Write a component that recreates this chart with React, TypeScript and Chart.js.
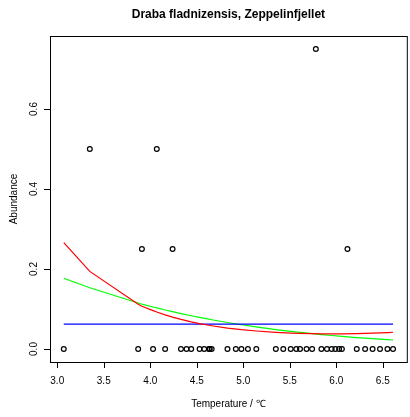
import React, { useEffect, useRef } from "react";
import { Chart, registerables } from "chart.js";

Chart.register(...registerables);

const chartTitle = "Draba fladnizensis, Zeppelinfjellet";
const xTitle = "Temperature / \u2103";
const yTitle = "Abundance";

const temperature = [
  3.07, 3.35, 3.87, 3.91, 4.03, 4.07, 4.16, 4.24, 4.33, 4.39, 4.44, 4.53, 4.58, 4.63,
  4.64, 4.66, 4.83, 4.92, 4.98, 5.05, 5.14, 5.35, 5.43, 5.51, 5.57, 5.61, 5.68, 5.74,
  5.78, 5.84, 5.9, 5.95, 5.99, 6.03, 6.06, 6.12, 6.22, 6.31, 6.39, 6.47, 6.55, 6.61,
];
const abundance = [
  0, 0.5, 0, 0.25, 0, 0.5, 0, 0.25, 0, 0, 0, 0, 0, 0,
  0, 0, 0, 0, 0, 0, 0, 0, 0, 0, 0, 0, 0, 0,
  0.75, 0, 0, 0, 0, 0, 0, 0.25, 0, 0, 0, 0, 0, 0,
];

const fitTemperature = [
  3.07, 3.35, 3.87, 3.91, 4.03, 4.07, 4.16, 4.24, 4.33, 4.44, 4.53, 4.63, 4.66, 4.83,
  4.98, 5.14, 5.35, 5.51, 5.61, 5.74, 5.84, 5.95, 6.06, 6.22, 6.39, 6.55, 6.61,
];
const redFit = [
  0.266, 0.194, 0.112, 0.107, 0.096, 0.0925, 0.0853, 0.0797, 0.074, 0.068, 0.0636, 0.0593,
  0.0582, 0.0524, 0.0484, 0.045, 0.0416, 0.0398, 0.039, 0.0383, 0.0379, 0.0378, 0.0378,
  0.0383, 0.0395, 0.0411, 0.0419,
];
const greenFit = [
  0.177, 0.153, 0.115, 0.112, 0.105, 0.103, 0.0976, 0.0933, 0.0886, 0.0832, 0.0789, 0.0745,
  0.0732, 0.0662, 0.0606, 0.0551, 0.0486, 0.0441, 0.0415, 0.0384, 0.0361, 0.0338, 0.0316,
  0.0286, 0.0258, 0.0234, 0.0225,
];
const meanTemperature = [3.07, 6.61];
const meanAbundance = [0.062, 0.062];

const xTicks = [3.0, 3.5, 4.0, 4.5, 5.0, 5.5, 6.0, 6.5];
const xTickLabels = ["3.0", "3.5", "4.0", "4.5", "5.0", "5.5", "6.0", "6.5"];
const yTicks = [0, 0.2, 0.4, 0.6];
const yTickLabels = ["0.0", "0.2", "0.4", "0.6"];

const FONT = '"Liberation Sans", Arial, Helvetica, sans-serif';

export default function App() {
  const ref = useRef<HTMLCanvasElement>(null);

  useEffect(() => {
    const canvas = ref.current;
    if (!canvas) return;

    const framePlugin = {
      id: "rframe",
      afterDraw(chart: any) {
        const { ctx, chartArea: a, scales } = chart;
        const xs = scales.x;
        const ys = scales.y;
        ctx.save();
        ctx.strokeStyle = "#000";
        ctx.lineWidth = 1;
        ctx.strokeRect(a.left + 0.5, a.top + 0.5, a.right - a.left, a.bottom - a.top);
        ctx.beginPath();
        for (const t of xTicks) {
          const px = Math.round(xs.getPixelForValue(t)) + 0.5;
          ctx.moveTo(px, a.bottom);
          ctx.lineTo(px, a.bottom + 6);
        }
        for (const t of yTicks) {
          const py = Math.round(ys.getPixelForValue(t)) + 0.5;
          ctx.moveTo(a.left, py);
          ctx.lineTo(a.left - 6, py);
        }
        ctx.stroke();

        ctx.fillStyle = "#000";
        ctx.font = `10px ${FONT}`;
        ctx.textAlign = "center";
        ctx.textBaseline = "middle";
        xTicks.forEach((t, i) => {
          ctx.fillText(xTickLabels[i], xs.getPixelForValue(t), a.bottom + 19);
        });
        ctx.fillText(xTitle, (a.left + a.right) / 2, a.bottom + 42);

        yTicks.forEach((t, i) => {
          ctx.save();
          ctx.translate(a.left - 16, ys.getPixelForValue(t));
          ctx.rotate(-Math.PI / 2);
          ctx.fillText(yTickLabels[i], 0, 0);
          ctx.restore();
        });
        ctx.save();
        ctx.translate(14, (a.top + a.bottom) / 2);
        ctx.rotate(-Math.PI / 2);
        ctx.fillText(yTitle, 0, 0);
        ctx.restore();

        ctx.font = `bold 12px ${FONT}`;
        ctx.fillText(chartTitle, (a.left + a.right) / 2, 15);
        ctx.restore();
      },
    };

    const toPoints = (xs: number[], ys: number[]) => xs.map((x, i) => ({ x, y: ys[i] }));

    const chart = new Chart(canvas, {
      type: "scatter",
      data: {
        datasets: [
          {
            type: "scatter",
            data: toPoints(temperature, abundance),
            pointStyle: "circle",
            pointRadius: 2.4,
            pointBorderWidth: 1.2,
            pointBorderColor: "#000",
            pointBackgroundColor: "rgba(0,0,0,0)",
            order: 2,
          },
          {
            type: "line",
            data: toPoints(meanTemperature, meanAbundance),
            borderColor: "#0000ff",
            borderWidth: 1.2,
            pointRadius: 0,
            tension: 0,
            fill: false,
            order: 1,
          },
          {
            type: "line",
            data: toPoints(fitTemperature, greenFit),
            borderColor: "#00ff00",
            borderWidth: 1.2,
            pointRadius: 0,
            tension: 0,
            fill: false,
            order: 1,
          },
          {
            type: "line",
            data: toPoints(fitTemperature, redFit),
            borderColor: "#ff0000",
            borderWidth: 1.2,
            pointRadius: 0,
            tension: 0,
            fill: false,
            order: 0,
          },
        ],
      } as any,
      options: {
        animation: false,
        responsive: false,
        devicePixelRatio: 1,
        layout: { padding: { left: 50, top: 36, right: 1, bottom: 55 } },
        plugins: { legend: { display: false }, tooltip: { enabled: false }, title: { display: false } },
        scales: {
          x: { type: "linear", display: false, min: 2.922, max: 6.758 },
          y: { type: "linear", display: false, min: -0.0325, max: 0.7825 },
        },
      },
      plugins: [framePlugin],
    } as any);

    return () => chart.destroy();
  }, []);

  return (
    <div style={{ position: "absolute", left: 0, top: 0, width: 410, height: 417, overflow: "hidden", background: "#fff" }}>
      <canvas ref={ref} width={412} height={417} style={{ display: "block" }} />
    </div>
  );
}
